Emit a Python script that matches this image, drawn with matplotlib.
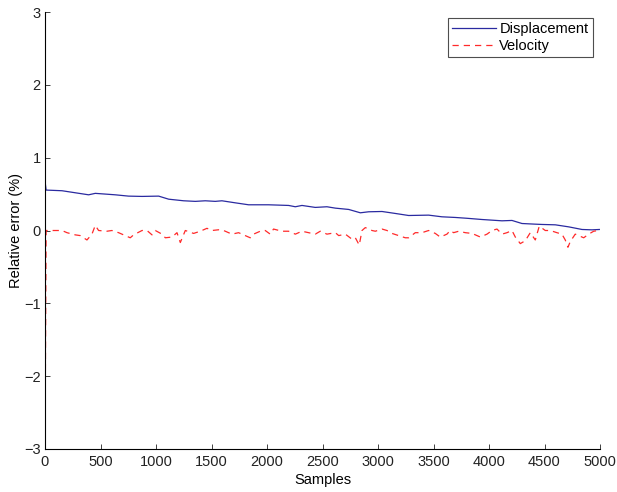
import matplotlib
matplotlib.use("Agg")
import matplotlib.pyplot as plt

plt.rcParams['font.family'] = ['Liberation Sans', 'DejaVu Sans']

# Displacement relative error (%)
disp_x = [0, 10, 153, 273, 393, 453, 633, 753, 874, 1024, 1114, 1249, 1354, 1444,
          1534, 1594, 1714, 1834, 2014, 2195, 2255, 2315, 2435, 2540, 2616, 2736,
          2841, 2916, 3036, 3156, 3276, 3456, 3576, 3697, 3800, 3937, 4117, 4207,
          4297, 4417, 4477, 4597, 4718, 4838, 4928, 4994]
disp_y = [0.68, 0.555, 0.546, 0.518, 0.49, 0.51, 0.49, 0.472, 0.468, 0.472, 0.43,
          0.408, 0.40, 0.408, 0.40, 0.408, 0.38, 0.353, 0.353, 0.344, 0.326, 0.344,
          0.317, 0.326, 0.307, 0.289, 0.243, 0.257, 0.261, 0.234, 0.206, 0.211,
          0.188, 0.179, 0.168, 0.151, 0.133, 0.138, 0.096, 0.087, 0.083, 0.078,
          0.05, 0.014, 0.009, 0.014]

# Velocity relative error (%)
vel_x = [0, 10, 153, 198, 273, 318, 378, 423, 453, 483, 558, 603, 663, 693, 768,
         798, 874, 919, 964, 994, 1054, 1084, 1144, 1189, 1219, 1264, 1339, 1399,
         1459, 1504, 1564, 1609, 1654, 1684, 1744, 1789, 1849, 1879, 1939, 1984,
         2029, 2059, 2134, 2195, 2255, 2315, 2375, 2435, 2480, 2540, 2616, 2646,
         2706, 2766, 2796, 2831, 2856, 2886, 2946, 2976, 3036, 3081, 3126, 3186,
         3246, 3276, 3336, 3396, 3456, 3516, 3561, 3621, 3651, 3681, 3727, 3787,
         3847, 3922, 3982, 4027, 4072, 4117, 4162, 4207, 4237, 4282, 4327, 4372,
         4417, 4453, 4507, 4552, 4612, 4657, 4687, 4711, 4733, 4777, 4808, 4853,
         4898, 4943, 4988]
vel_y = [-3.0, 0.0, 0.0, -0.03, -0.06, -0.07, -0.13, -0.05, 0.07, 0.0, -0.01, 0.0,
         -0.03, -0.05, -0.10, -0.06, 0.0, 0.0, -0.06, 0.0, -0.05, -0.10, -0.09,
         -0.03, -0.165, 0.0, -0.04, -0.01, 0.03, 0.0, 0.01, 0.0, -0.03, -0.05,
         -0.03, -0.06, -0.10, -0.05, -0.01, 0.0, -0.05, 0.02, -0.01, -0.01, -0.05,
         -0.01, -0.03, -0.05, -0.01, -0.05, -0.03, -0.07, -0.05, -0.12, -0.10,
         -0.20, 0.0, 0.04, 0.0, -0.01, 0.02, 0.0, -0.04, -0.07, -0.10, -0.10,
         -0.03, -0.03, 0.0, -0.04, -0.09, -0.05, 0.0, -0.03, -0.01, -0.03, -0.04,
         -0.09, -0.05, 0.0, 0.02, -0.05, -0.03, 0.0, -0.09, -0.18, -0.14, -0.03,
         -0.13, 0.06, 0.0, 0.0, -0.03, -0.05, -0.13, -0.23, -0.15, -0.05, -0.07,
         -0.10, -0.05, -0.01, 0.0]

x_ticks = [0, 500, 1000, 1500, 2000, 2500, 3000, 3500, 4000, 4500, 5000]
y_ticks = [-3, -2, -1, 0, 1, 2, 3]

FS = 10.5

fig = plt.figure(figsize=(6.17, 4.92), dpi=100)
ax = fig.add_axes([45 / 617, 1 - 449 / 492, 555 / 617, 437 / 492])

ax.plot(disp_x, disp_y, color='#2a2aa0', lw=0.9, label='Displacement')
ax.plot(vel_x, vel_y, color='#ff2a2a', lw=0.9, ls=(0, (5, 4)), label='Velocity')

ax.set_xlim(0, 5000)
ax.set_ylim(-3, 3)
ax.set_xticks(x_ticks)
ax.set_yticks(y_ticks)
ax.spines['top'].set_visible(False)
ax.spines['right'].set_visible(False)
for s in ('left', 'bottom'):
    ax.spines[s].set_linewidth(0.8)
ax.tick_params(direction='in', length=3.5, width=0.6, labelsize=FS, colors='#222222')
ax.tick_params(axis='x', pad=4)
ax.tick_params(axis='y', pad=3)
ax.set_xlabel('Samples', fontsize=FS, labelpad=3)
ax.set_ylabel('Relative error (%)', fontsize=FS, labelpad=1)

leg = ax.legend(loc='upper right', bbox_to_anchor=(0.987, 0.987), fontsize=FS,
                frameon=True, fancybox=False, edgecolor='#222222',
                handlelength=3.0, handletextpad=0.25, borderpad=0.3,
                labelspacing=0.2, borderaxespad=0)
leg.get_frame().set_linewidth(0.8)

fig.savefig('out.png', dpi=100)
